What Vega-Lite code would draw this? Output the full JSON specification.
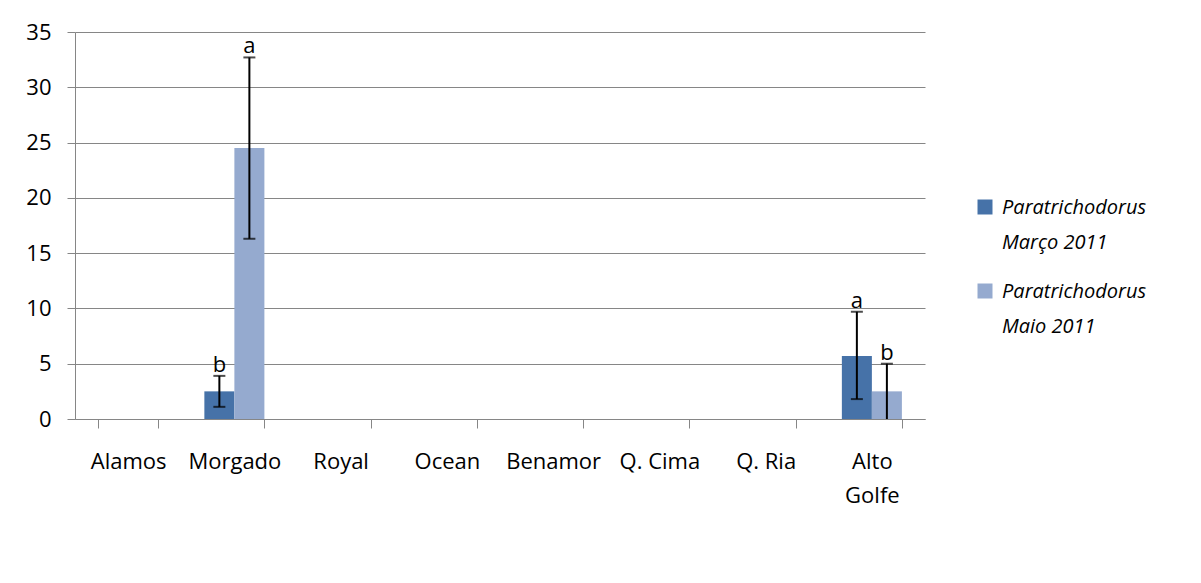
{
  "$schema": "https://vega.github.io/schema/vega-lite/v6.json",
  "autosize": {"type": "none"},
  "padding": {"left": 75, "top": 32, "right": 276, "bottom": 164},
  "width": 850,
  "height": 387,
  "background": "white",
  "config": {
    "font": "Open Sans",
    "view": {"stroke": null},
    "axis": {"labelFont": "Open Sans", "labelColor": "#000000", "labelFontSize": 22, "domainColor": "#868686", "tickColor": "#868686", "gridColor": "#868686", "gridOpacity": 1}
  },
  "data": {
    "values": [
      {"site": "Alamos", "series": "Paratrichodorus Março 2011", "value": 0},
      {"site": "Alamos", "series": "Paratrichodorus Maio 2011", "value": 0},
      {"site": "Morgado", "series": "Paratrichodorus Março 2011", "value": 2.5, "lo": 1.1, "hi": 3.9, "letter": "b"},
      {"site": "Morgado", "series": "Paratrichodorus Maio 2011", "value": 24.5, "lo": 16.3, "hi": 32.7, "letter": "a"},
      {"site": "Royal", "series": "Paratrichodorus Março 2011", "value": 0},
      {"site": "Royal", "series": "Paratrichodorus Maio 2011", "value": 0},
      {"site": "Ocean", "series": "Paratrichodorus Março 2011", "value": 0},
      {"site": "Ocean", "series": "Paratrichodorus Maio 2011", "value": 0},
      {"site": "Benamor", "series": "Paratrichodorus Março 2011", "value": 0},
      {"site": "Benamor", "series": "Paratrichodorus Maio 2011", "value": 0},
      {"site": "Q. Cima", "series": "Paratrichodorus Março 2011", "value": 0},
      {"site": "Q. Cima", "series": "Paratrichodorus Maio 2011", "value": 0},
      {"site": "Q. Ria", "series": "Paratrichodorus Março 2011", "value": 0},
      {"site": "Q. Ria", "series": "Paratrichodorus Maio 2011", "value": 0},
      {"site": "Alto Golfe", "series": "Paratrichodorus Março 2011", "value": 5.7, "lo": 1.8, "hi": 9.7, "letter": "a"},
      {"site": "Alto Golfe", "series": "Paratrichodorus Maio 2011", "value": 2.5, "lo": 0, "hi": 5.0, "letter": "b"}
    ]
  },
  "encoding": {
    "x": {
      "field": "site", "type": "nominal", "sort": null,
      "scale": {"paddingInner": 0.435, "paddingOuter": 0.2175},
      "axis": {"title": null, "labelAngle": 0, "tickBand": "extent", "tickSize": 9, "labelPadding": 23, "labelLineHeight": 34, "labelBaseline": "top",
        "labelExpr": "datum.label == 'Alto Golfe' ? ['Alto', 'Golfe'] : datum.label"}
    },
    "xOffset": {"field": "series", "type": "nominal", "sort": ["Paratrichodorus Março 2011", "Paratrichodorus Maio 2011"], "scale": {"paddingInner": 0, "paddingOuter": 0}}
  },
  "layer": [
    {
      "mark": {"type": "bar"},
      "encoding": {
        "y": {"field": "value", "type": "quantitative", "scale": {"domain": [0, 35]},
          "axis": {"title": null, "values": [0, 5, 10, 15, 20, 25, 30, 35], "grid": true, "tickSize": 8, "labelPadding": 16}},
        "color": {"field": "series", "type": "nominal", "sort": ["Paratrichodorus Março 2011", "Paratrichodorus Maio 2011"],
          "scale": {"range": ["#4672A8", "#95AACF"]},
          "legend": {"title": null, "orient": "none", "legendX": 900, "legendY": 165, "symbolType": "square", "symbolSize": 225, "symbolStrokeWidth": 0,
            "labelFont": "Open Sans", "labelFontSize": 20, "labelFontStyle": "italic", "labelColor": "#000000", "labelBaseline": "middle", "labelOffset": 7, "rowPadding": 28, "labelLimit": 300,
            "labelExpr": "[slice(datum.label, 0, 15), slice(datum.label, 16)]",
            "encode": {"labels": {"update": {"lineHeight": {"value": 35}, "dy": {"value": 1}}}}}}
      }
    },
    {
      "transform": [{"filter": "isValid(datum.hi)"}],
      "mark": {"type": "rule", "color": "#000000", "strokeWidth": 2},
      "encoding": {"y": {"field": "lo", "type": "quantitative"}, "y2": {"field": "hi"}}
    },
    {
      "transform": [{"filter": "isValid(datum.hi)"}],
      "mark": {"type": "tick", "color": "#000000", "thickness": 2, "size": 12, "orient": "horizontal"},
      "encoding": {"y": {"field": "hi", "type": "quantitative"}}
    },
    {
      "transform": [{"filter": "isValid(datum.hi) && datum.lo > 0"}],
      "mark": {"type": "tick", "color": "#000000", "thickness": 2, "size": 12, "orient": "horizontal"},
      "encoding": {"y": {"field": "lo", "type": "quantitative"}}
    },
    {
      "transform": [{"filter": "isValid(datum.hi)"}],
      "mark": {"type": "text", "font": "Open Sans", "fontSize": 22, "color": "#000000", "baseline": "bottom", "dy": 1},
      "encoding": {"y": {"field": "hi", "type": "quantitative"}, "text": {"field": "letter"}}
    }
  ]
}
